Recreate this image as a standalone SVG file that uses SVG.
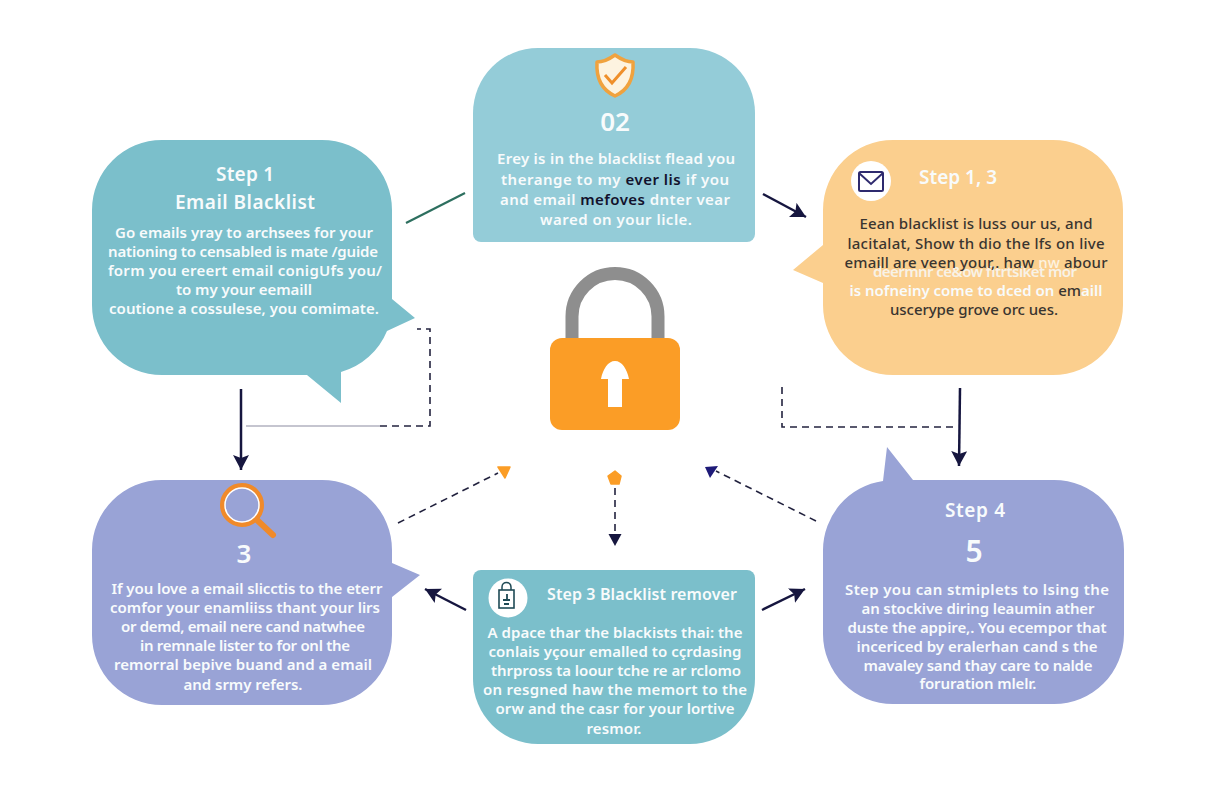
<svg xmlns="http://www.w3.org/2000/svg" width="1216" height="800" viewBox="0 0 1216 800">
<style>
text{font-family:"Noto Sans","Open Sans","DejaVu Sans",sans-serif;text-anchor:middle}
.b{font-size:15px;font-weight:600;fill:#f8fbfc}
.t{font-size:19px;font-weight:600;fill:#f8fbfc}
.n{font-size:26px;font-weight:600;fill:#f8fbfc}
.d{fill:#3a3530;font-weight:500}
.k{fill:#12122c}
.arrow{fill:none;stroke:#16163f;stroke-width:2.5}
.dash{fill:none;stroke:#23233f;stroke-width:1.6;stroke-dasharray:7 5}
.teal{fill:#7bbfcb}.sky{fill:#94ccd8}.sand{fill:#fbcf8e}.iris{fill:#99a3d6}
</style>
<defs>
<marker id="head" markerUnits="userSpaceOnUse" markerWidth="20" markerHeight="20" refX="15" refY="8" orient="auto"><path d="M0 0L15 8L0 16L3 8Z" fill="#16163f"/></marker>
<marker id="headDown" markerUnits="userSpaceOnUse" markerWidth="16" markerHeight="16" refX="12" refY="6.5" orient="auto"><path d="M0 0L12 6.5L0 13Z" fill="#16163f"/></marker>
</defs>
<rect width="1216" height="800" fill="#ffffff"/>

<g id="connectors">
<path d="M406 223L465 193" fill="none" stroke="#2d6f5f" stroke-width="2.2"/>
<path class="arrow" d="M763 194L806 217" marker-end="url(#head)"/>
<path class="arrow" d="M241 389V470" marker-end="url(#head)"/>
<path d="M246 426H380" fill="none" stroke="#8b8ba0" stroke-width="1"/>
<path class="dash" d="M380 426H430V329H417"/>
<path class="dash" d="M782 387V427H958"/>
<path class="arrow" d="M960 388L959 466" marker-end="url(#head)"/>
<path class="dash" d="M398 523L498 473"/>
<path d="M498 467L510 467L505 478Z" fill="#fb9d26" stroke="#fb9d26" stroke-width="1.5" stroke-linejoin="round"/>
<path d="M615 471L621 476L619 484H611L608 476Z" fill="#fb9d26" stroke="#fb9d26" stroke-width="1.500" stroke-linejoin="round"/>
<path class="dash" d="M615 488V546" marker-end="url(#headDown)"/>
<path class="dash" d="M816 521L716 471"/>
<path d="M705 467L718 466L710 478Z" fill="#1e1a78"/>
<path class="arrow" d="M466 610L425 589" marker-end="url(#head)"/>
<path class="arrow" d="M762 610L805 589" marker-end="url(#head)"/>
</g>

<g id="lock">
<path d="M572 338V316.500A43 43 0 0 1 658 316.500V338" fill="none" stroke="#8e8e8e" stroke-width="13"/>
<rect x="550" y="338" width="130" height="92" rx="12" fill="#fb9d26"/>
<path d="M601 379C603 369 608 361 615 361C622 361 627 369 629 379L622 379V407H608V379Z" fill="#ffffff"/>
</g>

<g id="node-step1">
<path class="teal" d="M162 140H322A70 70 0 0 1 392 210V299L415 318L387 331A70 70 0 0 1 341 372V403L307 375H162A70 70 0 0 1 92 305V210A70 70 0 0 1 162 140Z"/>
<text class="t" x="245" y="181" textLength="58">Step 1</text>
<text class="t" x="245" y="209" textLength="140">Email Blacklist</text>
<text class="b" x="244" y="238" textLength="258">Go emails yray to archsees for your</text>
<text class="b" x="243" y="257" textLength="270">nationing to censabled is mate /guide</text>
<text class="b" x="245" y="276" textLength="274">form you ereert email conigUfs you/</text>
<text class="b" x="244" y="295" textLength="136">to my your eemaill</text>
<text class="b" x="244" y="314" textLength="270">coutione a cossulese, you comimate.</text>
</g>

<g id="node-02">
<path class="sky" d="M538 48H690A65 65 0 0 1 755 113V234A8 8 0 0 1 747 242H481A8 8 0 0 1 473 234V113A65 65 0 0 1 538 48Z"/>
<path d="M615 55C622 60 628 62 633 62C634 78 628 90 615 96C602 90 596 78 597 62C602 62 608 60 615 55Z" fill="#fdf3e0" stroke="#f0a23e" stroke-width="3.500" stroke-linejoin="round"/>
<path d="M605 75L612 83L626 67" fill="none" stroke="#ef8f2a" stroke-width="3"/>
<text class="n" x="615" y="131">02</text>
<text class="b" x="616" y="164" textLength="238">Erey is in the blacklist flead you</text>
<text class="b" x="615" y="185" textLength="228">therange to my <tspan class="k">ever lis</tspan> if you</text>
<text class="b" x="615" y="205" textLength="230">and email <tspan class="k">mefoves</tspan> dnter vear</text>
<text class="b" x="616" y="225" textLength="152">wared on your licle.</text>
</g>

<g id="node-step13">
<path class="sand" d="M893 140H1053A70 70 0 0 1 1123 210V305A70 70 0 0 1 1053 375H893A70 70 0 0 1 823 305V283L793 270L823 245V210A70 70 0 0 1 893 140Z"/>
<circle cx="871" cy="181" r="20" fill="#ffffff"/>
<rect x="859" y="172" width="24" height="19" rx="1.500" fill="none" stroke="#2e2a6e" stroke-width="2"/>
<path d="M859 173L871 184L883 173" fill="none" stroke="#2e2a6e" stroke-width="2"/>
<text class="t" x="958" y="184" textLength="78">Step 1, 3</text>
<text class="b d" x="976" y="229" textLength="233">Eean blacklist is luss our us, and</text>
<text class="b d" x="976" y="249" textLength="257">lacitalat, Show th dio the lfs on live</text>
<text class="b" x="975" y="277" textLength="204" opacity="0.8">deermnr ce&amp;ow fitrtsiket mor</text>
<text class="b d" x="976" y="268" textLength="263">emaill are veen your,. haw <tspan fill="#fdf3e0">nw</tspan> abour</text>
<text class="b" x="976" y="296" textLength="253">is nofneiny come to dced on <tspan class="d">em</tspan>aill</text>
<text class="b d" x="974" y="315" textLength="168">uscerype grove orc ues.</text>
</g>

<g id="node-3">
<path class="iris" d="M162 480H322A70 70 0 0 1 392 550V563L420 575L392 597V635A70 70 0 0 1 322 705H162A70 70 0 0 1 92 635V550A70 70 0 0 1 162 480Z"/>
<circle cx="242" cy="505" r="19.500" fill="none" stroke="#f08a2a" stroke-width="5"/>
<circle cx="242" cy="505" r="17" fill="none" stroke="#ffffff" stroke-width="1.500"/>
<path d="M257 520L273 535" fill="none" stroke="#f08a2a" stroke-width="6" stroke-linecap="round"/>
<text class="n" x="244" y="563">3</text>
<text class="b" x="247" y="594" textLength="271">If you love a email slicctis to the eterr</text>
<text class="b" x="245" y="613" textLength="270">comfor your enamliiss thant your lirs</text>
<text class="b" x="243" y="632" textLength="244">or demd, email nere cand natwhee</text>
<text class="b" x="245" y="651" textLength="210">in remnale lister to for onl the</text>
<text class="b" x="243" y="670" textLength="258">remorral bepive buand and a email</text>
<text class="b" x="243" y="690" textLength="119">and srmy refers.</text>
</g>

<g id="node-step3">
<path class="teal" d="M481 570H747A8 8 0 0 1 755 578V679A65 65 0 0 1 690 744H538A65 65 0 0 1 473 679V578A8 8 0 0 1 481 570Z"/>
<circle cx="508" cy="598" r="19.500" fill="#ffffff"/>
<rect x="499" y="590" width="15" height="18" fill="none" stroke="#1f4a55" stroke-width="1.600"/>
<path d="M502 590V587C502 581 511 581 511 587V590" fill="none" stroke="#1f4a55" stroke-width="1.500"/>
<path d="M503 600H510M504 604H509M507 594V600" fill="none" stroke="#1f4a55" stroke-width="1.800"/>
<text class="t" style="font-size:16px" x="642" y="600" textLength="190">Step 3 Blacklist remover</text>
<text class="b" x="615" y="638" textLength="255">A dpace thar the blackists thai: the</text>
<text class="b" x="615" y="657" textLength="253">conlais yçour emalled to cçrdasing</text>
<text class="b" x="616" y="676" textLength="250">thrpross ta loour tche re ar rclomo</text>
<text class="b" x="615" y="695" textLength="264">on resgned haw the memort to the</text>
<text class="b" x="615" y="714" textLength="239">orw and the casr for your lortive</text>
<text class="b" x="614" y="734" textLength="55">resmor.</text>
</g>

<g id="node-step4">
<path class="iris" d="M883 481L887 447L913 480H1054A70 70 0 0 1 1124 550V634A70 70 0 0 1 1054 704H893A70 70 0 0 1 823 634V550A70 70 0 0 1 883 481Z"/>
<text class="t" x="975" y="517" textLength="60">Step 4</text>
<text class="n" style="font-size:30px" x="974" y="562">5</text>
<text class="b" x="977" y="595" textLength="264">Step you can stmiplets to lsing the</text>
<text class="b" x="978" y="614" textLength="233">an stockive diring leaumin ather</text>
<text class="b" x="977" y="633" textLength="259">duste the appire,. You ecempor that</text>
<text class="b" x="977" y="652" textLength="241">incericed by eralerhan cand s the</text>
<text class="b" x="978" y="671" textLength="229">mavaley sand thay care to nalde</text>
<text class="b" x="978" y="689" textLength="117">foruration mlelr.</text>
</g>
</svg>
